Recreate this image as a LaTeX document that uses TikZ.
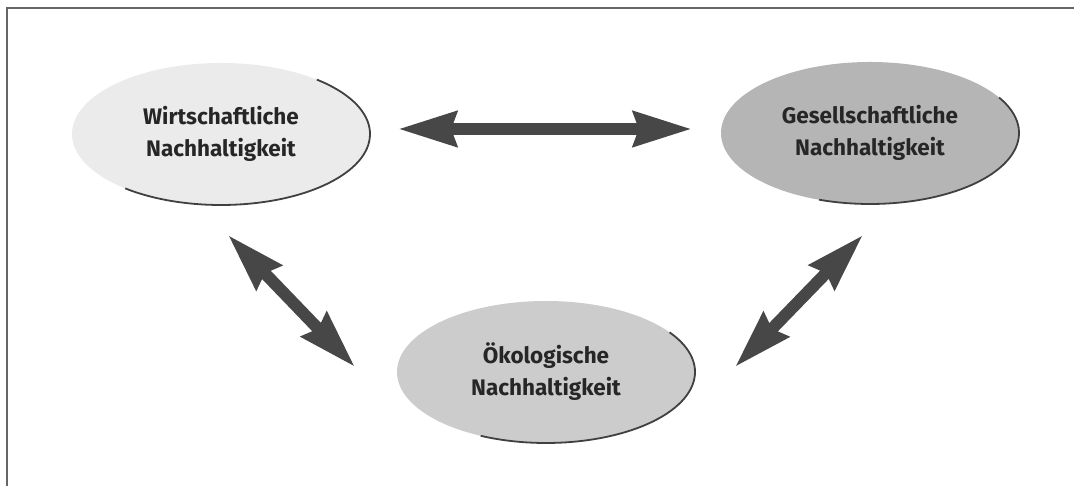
\documentclass[tikz,border=0pt]{standalone}
\usepackage{fontspec}
\setmainfont{Fira Sans}
\usetikzlibrary{shapes.geometric,arrows.meta}

\begin{document}
\begin{tikzpicture}[x=1pt,y=1pt,
        e/.style={ellipse,minimum width=298pt,minimum height=142pt,inner sep=0pt,align=center,text=black!85,font=\bfseries\fontsize{22.5}{32}\selectfont},
        rim/.style={black!75,line width=1.8pt},
        dbl/.style={black!72,line width=12pt,{Stealth[length=58pt,width=34pt,inset=5pt]}-{Stealth[length=58pt,width=34pt,inset=5pt]}}]
        \useasboundingbox (0,0) rectangle (1074,486);
        \draw[black!60,line width=2pt] (1074,478) -- (7,478) -- (7,0);
        \node[e,fill=black!8] (wirt) at (221,352) {Wirtschaftliche\\Nachhaltigkeit};
        \node[e,fill=black!29] (ges) at (870,353) {Gesellschaftliche\\Nachhaltigkeit};
        \node[e,fill=black!20] (oeko) at (546,114) {Ökologische\\Nachhaltigkeit};
        \draw[rim] ([shift={(50:149 and 71)}]wirt.center) arc[start angle=50,end angle=-130,x radius=149,y radius=71];
        \draw[rim] ([shift={(30:149 and 71)}]ges.center) arc[start angle=30,end angle=-110,x radius=149,y radius=71];
        \draw[rim] ([shift={(34:149 and 71)}]oeko.center) arc[start angle=34,end angle=-116,x radius=149,y radius=71];
        \coordinate (h1) at (398,357);
        \coordinate (h2) at (692,357);
        \coordinate (l1) at (228,251);
        \coordinate (l2) at (355,119);
        \coordinate (r1) at (863,251);
        \coordinate (r2) at (735,119);
        \draw[dbl] (h1) -- (h2);
        \draw[dbl] (l1) -- (l2);
        \draw[dbl] (r1) -- (r2);
\end{tikzpicture}
\end{document}
